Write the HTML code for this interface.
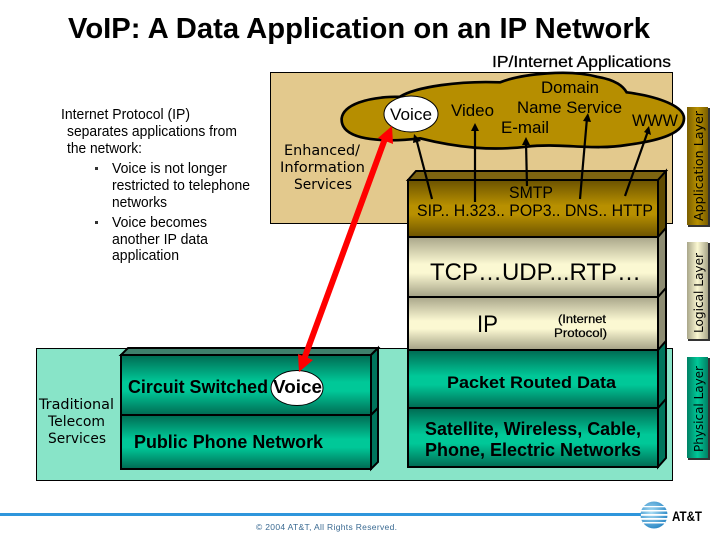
<!DOCTYPE html>
<html><head><meta charset="utf-8"><style>
html,body{margin:0;padding:0;background:#fff;width:720px;height:540px;overflow:hidden}
svg{display:block}
text{font-family:"Liberation Sans",sans-serif;fill:#000}
.d{font-family:"DejaVu Sans",sans-serif;font-size:14px}
.l{font-size:14.500px}
.s{font-family:"DejaVu Sans",sans-serif;font-size:12.500px}
</style></head><body>
<svg width="720" height="540" viewBox="0 0 720 540" xmlns="http://www.w3.org/2000/svg">
<defs>
<linearGradient id="g" x1="0" y1="0" x2="0" y2="1"><stop offset="0" stop-color="#6b5200"/><stop offset=".45" stop-color="#b89000"/><stop offset=".6" stop-color="#b89000"/><stop offset="1" stop-color="#6b5200"/></linearGradient>
<linearGradient id="c" x1="0" y1="0" x2="0" y2="1"><stop offset="0" stop-color="#a9a68a"/><stop offset=".45" stop-color="#fbf8d2"/><stop offset=".6" stop-color="#fbf8d2"/><stop offset="1" stop-color="#a3a085"/></linearGradient>
<linearGradient id="t" x1="0" y1="0" x2="0" y2="1"><stop offset="0" stop-color="#006a52"/><stop offset=".45" stop-color="#00c898"/><stop offset=".6" stop-color="#00c898"/><stop offset="1" stop-color="#006a52"/></linearGradient>
<linearGradient id="gv" x1="0" y1="0" x2="1" y2="0"><stop offset="0" stop-color="#7a5e00"/><stop offset=".5" stop-color="#b89000"/><stop offset="1" stop-color="#7a5e00"/></linearGradient>
<linearGradient id="cv" x1="0" y1="0" x2="1" y2="0"><stop offset="0" stop-color="#a9a68a"/><stop offset=".5" stop-color="#fbf8d2"/><stop offset="1" stop-color="#a9a68a"/></linearGradient>
<linearGradient id="tv" x1="0" y1="0" x2="1" y2="0"><stop offset="0" stop-color="#008064"/><stop offset=".5" stop-color="#00c898"/><stop offset="1" stop-color="#008064"/></linearGradient>
<radialGradient id="globe" cx=".4" cy=".4" r=".7"><stop offset="0" stop-color="#a8ddf5"/><stop offset="1" stop-color="#1f7fc0"/></radialGradient>
</defs>

<text x="68" y="38" font-size="29" font-weight="bold" textLength="582" lengthAdjust="spacingAndGlyphs">VoIP: A Data Application on an IP Network</text>
<text x="492" y="67" font-size="16" textLength="179" lengthAdjust="spacingAndGlyphs" stroke="#000" stroke-width=".25">IP/Internet Applications</text>

<!-- panels -->
<rect x="270.500" y="72.500" width="402" height="151" fill="#e3c98d" stroke="#000"/>
<rect x="36.500" y="348.500" width="636" height="132" fill="#88e4c8" stroke="#000"/>

<!-- cloud -->
<g transform="translate(260 50) scale(.33333)">
<path d="M245 205C250 165 320 140 420 140C470 110 600 92 720 97C790 70 930 58 1010 80C1070 90 1090 110 1100 127C1200 140 1272 170 1272 205C1272 250 1200 272 1100 285C1000 302 900 278 800 290C700 302 600 295 480 265C400 275 240 280 245 205Z" fill="#b68e00" stroke="#000" stroke-width="8"/>
</g>
<ellipse cx="411" cy="114" rx="27" ry="18" fill="#fff" stroke="#000" stroke-width="1"/>

<!-- right stack -->
<g stroke="#000" stroke-width="2">
<polygon points="408,180 416,171 666,171 658,180" fill="#7d6410"/>
<polygon points="658,180 666,171 666,228 658,237" fill="#5f4a00"/>
<polygon points="658,237 666,228 666,288 658,297" fill="#8d8c72"/>
<polygon points="658,297 666,288 666,341 658,350" fill="#8d8c72"/>
<polygon points="658,350 666,341 666,399 658,408" fill="#00755c"/>
<polygon points="658,408 666,399 666,458 658,467" fill="#00755c"/>
<rect x="408" y="180" width="250" height="57" fill="url(#g)"/>
<rect x="408" y="237" width="250" height="60" fill="url(#c)"/>
<rect x="408" y="297" width="250" height="53" fill="url(#c)"/>
<rect x="408" y="350" width="250" height="58" fill="url(#t)"/>
<rect x="408" y="408" width="250" height="59" fill="url(#t)"/>
<!-- left stack -->
<polygon points="121,355 128,348 378,348 371,355" fill="#3f806c"/>
<polygon points="371,355 378,348 378,408 371,415" fill="#00755c"/>
<polygon points="371,415 378,408 378,462 371,469" fill="#00755c"/>
<rect x="121" y="355" width="250" height="60" fill="url(#t)"/>
<rect x="121" y="415" width="250" height="54" fill="url(#t)"/>
</g>

<!-- layer bars -->
<rect x="688" y="108" width="22" height="119" fill="#333"/>
<rect x="687" y="107" width="21" height="118" fill="url(#gv)"/>
<rect x="688" y="243" width="22" height="98" fill="#333"/>
<rect x="687" y="242" width="21" height="97" fill="url(#cv)"/>
<rect x="688" y="358" width="22" height="102" fill="#333"/>
<rect x="687" y="357" width="21" height="101" fill="url(#tv)"/>
<text class="s" transform="translate(703 221) rotate(-90)" textLength="110" lengthAdjust="spacingAndGlyphs">Application Layer</text>
<text class="s" transform="translate(703 333) rotate(-90)" textLength="80" lengthAdjust="spacingAndGlyphs">Logical Layer</text>
<text class="s" transform="translate(703 452) rotate(-90)" textLength="86" lengthAdjust="spacingAndGlyphs">Physical Layer</text>

<!-- black arrows -->
<g stroke="#000" stroke-width="2.200" fill="#000">
<line x1="432" y1="199" x2="416" y2="138"/><polygon points="414,134 421,141 413,143" stroke="none"/>
<line x1="475" y1="202" x2="475" y2="128"/><polygon points="475,123 479,131 471,131" stroke="none"/>
<line x1="527" y1="186" x2="526" y2="142"/><polygon points="526,137 530,145 522,145" stroke="none"/>
<line x1="580" y1="199" x2="587" y2="118"/><polygon points="588,113 591,122 583,121" stroke="none"/>
<line x1="625" y1="196" x2="648" y2="131"/><polygon points="649,126 651,135 644,132" stroke="none"/>
</g>

<!-- voice oval lower -->
<ellipse cx="297" cy="388" rx="26" ry="17.500" fill="#fff" stroke="#000" stroke-width="1"/>

<!-- red arrow -->
<line x1="303" y1="362" x2="386" y2="136" stroke="#f00" stroke-width="6"/>
<polygon points="392,126 393,144 378,138" fill="#f00"/>
<polygon points="299,372 298,354 313,360" fill="#f00"/>

<!-- left text -->
<g>
<text class="l" x="61" y="119" textLength="129" lengthAdjust="spacingAndGlyphs">Internet Protocol (IP)</text>
<text class="l" x="67" y="136" textLength="170" lengthAdjust="spacingAndGlyphs">separates applications from</text>
<text class="l" x="67" y="153" textLength="75" lengthAdjust="spacingAndGlyphs">the network:</text>
<rect x="95" y="167" width="3" height="3" fill="#333"/>
<text class="l" x="112" y="173" textLength="115" lengthAdjust="spacingAndGlyphs">Voice is not longer</text>
<text class="l" x="112" y="190" textLength="138" lengthAdjust="spacingAndGlyphs">restricted to telephone</text>
<text class="l" x="112" y="207" textLength="55" lengthAdjust="spacingAndGlyphs">networks</text>
<rect x="95" y="221" width="3" height="3" fill="#333"/>
<text class="l" x="112" y="227" textLength="95" lengthAdjust="spacingAndGlyphs">Voice becomes</text>
<text class="l" x="112" y="244" textLength="96" lengthAdjust="spacingAndGlyphs">another IP data</text>
<text class="l" x="112" y="260" textLength="67" lengthAdjust="spacingAndGlyphs">application</text>
</g>

<!-- Enhanced -->
<text class="d" x="284" y="155" textLength="76" lengthAdjust="spacingAndGlyphs">Enhanced/</text>
<text class="d" x="280" y="172" textLength="85" lengthAdjust="spacingAndGlyphs">Information</text>
<text class="d" x="294" y="189" textLength="58" lengthAdjust="spacingAndGlyphs">Services</text>

<!-- Telecom -->
<text class="d" x="39" y="409" textLength="75" lengthAdjust="spacingAndGlyphs">Traditional</text>
<text class="d" x="48" y="426" textLength="57" lengthAdjust="spacingAndGlyphs">Telecom</text>
<text class="d" x="48" y="443" textLength="58" lengthAdjust="spacingAndGlyphs">Services</text>

<!-- cloud labels -->
<text x="390" y="120" font-size="16.500" textLength="42" lengthAdjust="spacingAndGlyphs">Voice</text>
<text x="451" y="116" font-size="16.500" textLength="43" lengthAdjust="spacingAndGlyphs">Video</text>
<text x="541" y="93" font-size="16.500" textLength="58" lengthAdjust="spacingAndGlyphs">Domain</text>
<text x="517" y="113" font-size="16.500" textLength="105" lengthAdjust="spacingAndGlyphs">Name Service</text>
<text x="501" y="133" font-size="16.500" textLength="48" lengthAdjust="spacingAndGlyphs">E-mail</text>
<text x="632" y="126" font-size="16.500" textLength="46" lengthAdjust="spacingAndGlyphs">WWW</text>

<!-- stack labels -->
<text x="509" y="198" font-size="16.500" textLength="44" lengthAdjust="spacingAndGlyphs">SMTP</text>
<text x="417" y="216" font-size="17" textLength="236" lengthAdjust="spacingAndGlyphs">SIP.. H.323.. POP3.. DNS.. HTTP</text>
<text x="430" y="280" font-size="24" textLength="211" lengthAdjust="spacingAndGlyphs">TCP…UDP...RTP…</text>
<text x="477" y="332" font-size="24" textLength="21" lengthAdjust="spacingAndGlyphs">IP</text>
<text x="558" y="323" font-size="12" stroke="#000" stroke-width=".25" textLength="48" lengthAdjust="spacingAndGlyphs">(Internet</text>
<text x="554" y="337" font-size="12" stroke="#000" stroke-width=".25" textLength="53" lengthAdjust="spacingAndGlyphs">Protocol)</text>
<text x="447" y="388" font-size="17" font-weight="bold" textLength="169" lengthAdjust="spacingAndGlyphs">Packet Routed Data</text>
<text x="425" y="435" font-size="18" font-weight="bold" textLength="216" lengthAdjust="spacingAndGlyphs">Satellite, Wireless, Cable,</text>
<text x="425" y="456" font-size="18" font-weight="bold" textLength="216" lengthAdjust="spacingAndGlyphs">Phone, Electric Networks</text>
<text x="128" y="393" font-size="18" font-weight="bold" textLength="140" lengthAdjust="spacingAndGlyphs">Circuit Switched</text>
<text x="273" y="393" font-size="18" font-weight="bold" textLength="49" lengthAdjust="spacingAndGlyphs">Voice</text>
<text x="134" y="448" font-size="18" font-weight="bold" textLength="189" lengthAdjust="spacingAndGlyphs">Public Phone Network</text>

<!-- footer -->
<rect x="0" y="513" width="647" height="3" fill="#2f96dc"/>
<text x="256" y="530" font-size="8.500" style="fill:#3a6a92" textLength="141" lengthAdjust="spacing">© 2004 AT&amp;T, All Rights Reserved.</text>

<!-- logo -->
<circle cx="654" cy="515" r="13.500" fill="url(#globe)"/>
<g fill="#fff">
<rect x="641" y="506" width="24" height="1.300"/>
<rect x="641" y="510" width="27" height="1.500"/>
<rect x="641" y="514" width="27" height="1.800"/>
<rect x="641" y="518" width="27" height="1.800"/>
<rect x="643" y="522" width="22" height="1.500"/>
</g>
<text x="672" y="521" font-size="14" font-weight="bold" textLength="30" lengthAdjust="spacingAndGlyphs">AT&amp;T</text>
</svg>
</body></html>
